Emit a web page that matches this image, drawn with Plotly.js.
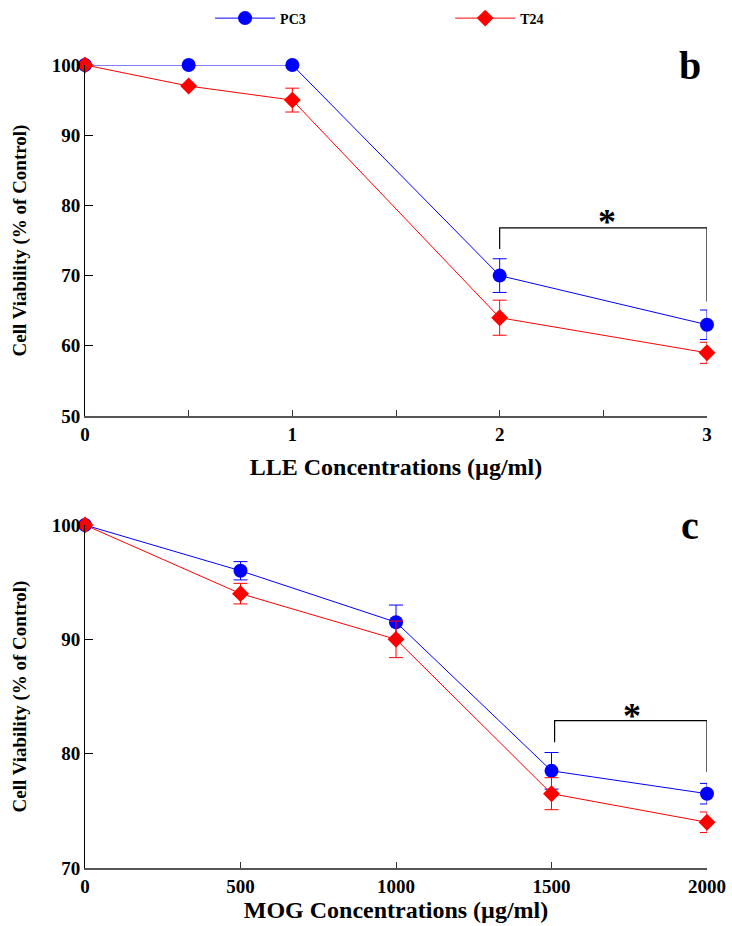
<!DOCTYPE html>
<html><head><meta charset="utf-8">
<script src="https://cdn.plot.ly/plotly-3.0.1.min.js"></script>
<style>body{margin:0;padding:0;background:#fff}#chart{width:732px;height:926px}</style>
</head><body><div id="chart"></div>
<script>
// Panel b: LLE
const lleConc = [0, 0.5, 1, 2, 3];
const llePC3 = [100, 100, 100, 70, 63];
const llePC3Err = [0, 0, 0, 2.4, 2.1];
const lleT24 = [100, 97, 95, 64, 59];
const lleT24Err = [0, 0, 1.7, 2.5, 1.5];
const lleTickVals = [0, 0.5, 1, 1.5, 2, 2.5, 3];
const lleTickText = ['0', '', '1', '', '2', '', '3'];
// Panel c: MOG
const mogConc = [0, 500, 1000, 1500, 2000];
const mogPC3 = [100, 96, 91.5, 78.5, 76.5];
const mogPC3Err = [0, 0.8, 1.5, 1.6, 0.9];
const mogT24 = [100, 94, 90, 76.5, 74];
const mogT24Err = [0, 0.9, 1.6, 1.4, 0.9];
const mogTickVals = [0, 500, 1000, 1500, 2000];
// significance brackets: [xLeft, xRight, yTop, yLeftEnd, yRightEnd, starX, starY]
const lleBracket = [2, 3, 76.8, 73.8, 66.3, 2.52, 77.6];
const mogBracket = [1510, 2000, 82.9, 81.0, 78.4, 1760, 83.3];

const FONT = 'Liberation Serif, Times New Roman, serif';
const blue = '#0000ff', red = '#ff0000';

function series(x, y, err, name, color, symbol, xa, ya, show, leg) {
  return {
    x: x, y: y, name: name, type: 'scatter', mode: 'lines+markers',
    xaxis: xa, yaxis: ya, showlegend: show, legend: leg, cliponaxis: false,
    line: {color: color, width: 1},
    marker: {color: color, symbol: symbol, size: symbol === 'circle' ? 14 : 13},
    error_y: {type: 'data', array: err, visible: true, color: color, thickness: 1, width: 7}
  };
}

const data = [
  series(lleConc, llePC3, llePC3Err, 'PC3', blue, 'circle', 'x', 'y', true, 'legend'),
  series(lleConc, lleT24, lleT24Err, 'T24', red, 'diamond', 'x', 'y', true, 'legend2'),
  series(mogConc, mogPC3, mogPC3Err, 'PC3', blue, 'circle', 'x2', 'y2', false, 'legend'),
  series(mogConc, mogT24, mogT24Err, 'T24', red, 'diamond', 'x2', 'y2', false, 'legend2')
];

function bracket(b, xr, yr) {
  return {type: 'path', xref: xr, yref: yr,
    path: `M ${b[0]} ${b[3]} L ${b[0]} ${b[2]} L ${b[1]} ${b[2]} L ${b[1]} ${b[4]}`,
    line: {color: '#000', width: 1.2}};
}

const tickFont = {family: FONT, size: 19, color: '#000', weight: 'bold'};
const xBase = {showgrid: false, zeroline: false, showline: true, linecolor: '#555', linewidth: 2,
  ticks: 'inside', ticklen: 6, tickcolor: '#333', tickwidth: 1, tickfont: tickFont};
const yBase = {showgrid: false, zeroline: false, showline: true, linecolor: '#000', linewidth: 1,
  ticks: 'inside', ticklen: 8, tickcolor: '#000', tickwidth: 1, tickfont: tickFont,
  title: {text: 'Cell Viability (% of Control)', standoff: 20,
    font: {family: FONT, size: 19, color: '#000', weight: 'bold'}}};
const legBase = {orientation: 'h', xref: 'container', yref: 'container', y: 0.98,
  xanchor: 'left', yanchor: 'middle', itemwidth: 60, bgcolor: 'rgba(0,0,0,0)',
  font: {family: FONT, size: 14, color: '#000', weight: 'bold'}};

const layout = {
  width: 732, height: 926,
  margin: {l: 85, r: 25, t: 65, b: 58},
  paper_bgcolor: '#fff', plot_bgcolor: '#fff',
  font: {family: FONT, color: '#000'},
  showlegend: true,
  legend: Object.assign({}, legBase, {x: 0.287}),
  legend2: Object.assign({}, legBase, {x: 0.615}),
  xaxis: Object.assign({}, xBase, {domain: [0, 1], anchor: 'y', range: [0, 3],
    tickvals: lleTickVals, ticktext: lleTickText,
    title: {text: 'LLE Concentrations (µg/ml)', standoff: 14,
      font: {family: FONT, size: 24, color: '#000', weight: 'bold'}}}),
  yaxis: Object.assign({}, yBase, {domain: [0.5629, 1], anchor: 'x', range: [50, 100], dtick: 10}),
  xaxis2: Object.assign({}, xBase, {domain: [0, 1], anchor: 'y2', range: [0, 2000],
    tickvals: mogTickVals,
    title: {text: 'MOG Concentrations (µg/ml)', standoff: 4,
      font: {family: FONT, size: 24, color: '#000', weight: 'bold'}}}),
  yaxis2: Object.assign({}, yBase, {domain: [0, 0.4271], anchor: 'x2', range: [70, 100], dtick: 10}),
  shapes: [bracket(lleBracket, 'x', 'y'), bracket(mogBracket, 'x2', 'y2')],
  annotations: [
    {xref: 'x', yref: 'y', x: lleBracket[5], y: lleBracket[6], text: '*', showarrow: false,
      font: {family: FONT, size: 36, color: '#000', weight: 'bold'}},
    {xref: 'x2', yref: 'y2', x: mogBracket[5], y: mogBracket[6], text: '*', showarrow: false,
      font: {family: FONT, size: 36, color: '#000', weight: 'bold'}},
    {xref: 'paper', yref: 'paper', x: 0.973, y: 1.0, xanchor: 'center', yanchor: 'middle',
      text: 'b', showarrow: false,
      font: {family: FONT, size: 40, color: '#000', weight: 'bold'}},
    {xref: 'paper', yref: 'paper', x: 0.973, y: 0.4271, xanchor: 'center', yanchor: 'middle',
      text: 'c', showarrow: false,
      font: {family: FONT, size: 40, color: '#000', weight: 'bold'}}
  ]
};

Plotly.newPlot('chart', data, layout, {displayModeBar: false, staticPlot: true});
</script></body></html>
